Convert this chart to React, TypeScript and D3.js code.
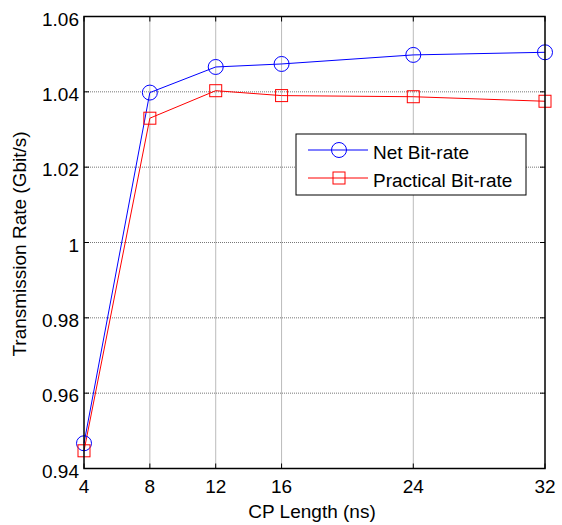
import React from "react";
import * as d3 from "d3";

const cpLengths = [4, 8, 12, 16, 24, 32];
const netBitRate = [0.9467, 1.0398, 1.0466, 1.0474, 1.0498, 1.0505];
const practicalBitRate = [0.9447, 1.033, 1.0403, 1.039, 1.0387, 1.0375];
const xTicks = [4, 8, 12, 16, 24, 32];
const yTicks = [0.94, 0.96, 0.98, 1.0, 1.02, 1.04, 1.06];
const seriesNames = ["Net Bit-rate", "Practical Bit-rate"];

const W = 562, H = 525;
const L = 84, R = 545, T = 16.5, B = 468.5;
const font = "Arial, 'Liberation Sans', sans-serif";
const SY = 0.92;
const FS = 19;

function HText({ x, y, anchor, children }: { x: number; y: number; anchor?: string; children: React.ReactNode }) {
  return (
    <text transform={`translate(${x},${y}) scale(1,${SY})`} textAnchor={anchor || "start"} fontSize={FS}>
      {children}
    </text>
  );
}

export default function App() {
  const x = d3.scaleLinear().domain([4, 32]).range([L, R]);
  const y = d3.scaleLinear().domain([0.94, 1.06]).range([B, T]);
  const line = d3.line<number>().x((_, i) => x(cpLengths[i])).y((d) => y(d));
  const fmtY = (v: number) => (Math.abs(v - 1) < 1e-9 ? "1" : v.toFixed(2));
  const tk = 5;
  return (
    <svg width={W} height={H} style={{ position: "absolute", left: 0, top: 0, background: "#fff" }} fontFamily={font}>
      <rect x={0} y={0} width={W} height={H} fill="#fff" />
      {/* grid */}
      {xTicks.slice(1, -1).map((t) => (
        <line key={"gx" + t} x1={x(t)} x2={x(t)} y1={T} y2={B} stroke="#777" strokeWidth={1} strokeDasharray="1,1" />
      ))}
      {yTicks.slice(1, -1).map((t) => (
        <line key={"gy" + t} x1={L} x2={R} y1={y(t)} y2={y(t)} stroke="#777" strokeWidth={1} strokeDasharray="1,1" />
      ))}
      {/* ticks */}
      {xTicks.map((t) => (
        <g key={"tx" + t}>
          <line x1={x(t)} x2={x(t)} y1={B} y2={B - tk} stroke="#000" />
          <line x1={x(t)} x2={x(t)} y1={T} y2={T + tk} stroke="#000" />
          <HText x={x(t)} y={493} anchor="middle">{t}</HText>
        </g>
      ))}
      {yTicks.map((t) => (
        <g key={"ty" + t}>
          <line x1={L} x2={L + tk} y1={y(t)} y2={y(t)} stroke="#000" />
          <line x1={R} x2={R - tk} y1={y(t)} y2={y(t)} stroke="#000" />
          <HText x={L - 5} y={y(t) + 9} anchor="end">{fmtY(t)}</HText>
        </g>
      ))}
      {/* series */}
      <path d={line(netBitRate) || ""} fill="none" stroke="#0000ff" strokeWidth={1} />
      <path d={line(practicalBitRate) || ""} fill="none" stroke="#ff0000" strokeWidth={1} />
      {netBitRate.map((v, i) => (
        <circle key={"c" + i} cx={x(cpLengths[i])} cy={y(v)} r={7.5} fill="none" stroke="#0000ff" strokeWidth={1} />
      ))}
      {practicalBitRate.map((v, i) => (
        <rect key={"s" + i} x={x(cpLengths[i]) - 6} y={y(v) - 6} width={12} height={12} fill="none" stroke="#ff0000" strokeWidth={1} />
      ))}
      {/* axes box */}
      <rect x={L} y={T} width={R - L} height={B - T} fill="none" stroke="#000" strokeWidth={1.5} />
      {/* legend */}
      <g>
        <rect x={296} y={134} width={230} height={61} fill="#fff" stroke="#000" strokeWidth={1} />
        <line x1={308} x2={368} y1={150} y2={150} stroke="#0000ff" />
        <circle cx={339} cy={150} r={7.5} fill="none" stroke="#0000ff" />
        <HText x={373} y={159}>{seriesNames[0]}</HText>
        <line x1={308} x2={368} y1={178} y2={178} stroke="#ff0000" />
        <rect x={333} y={172} width={12} height={12} fill="none" stroke="#ff0000" />
        <HText x={373} y={187}>{seriesNames[1]}</HText>
      </g>
      {/* labels */}
      <HText x={312} y={518} anchor="middle">CP Length (ns)</HText>
      <text transform={`translate(26,244) rotate(-90) scale(1,${SY})`} textAnchor="middle" fontSize={FS}>Transmission Rate (Gbit/s)</text>
    </svg>
  );
}
